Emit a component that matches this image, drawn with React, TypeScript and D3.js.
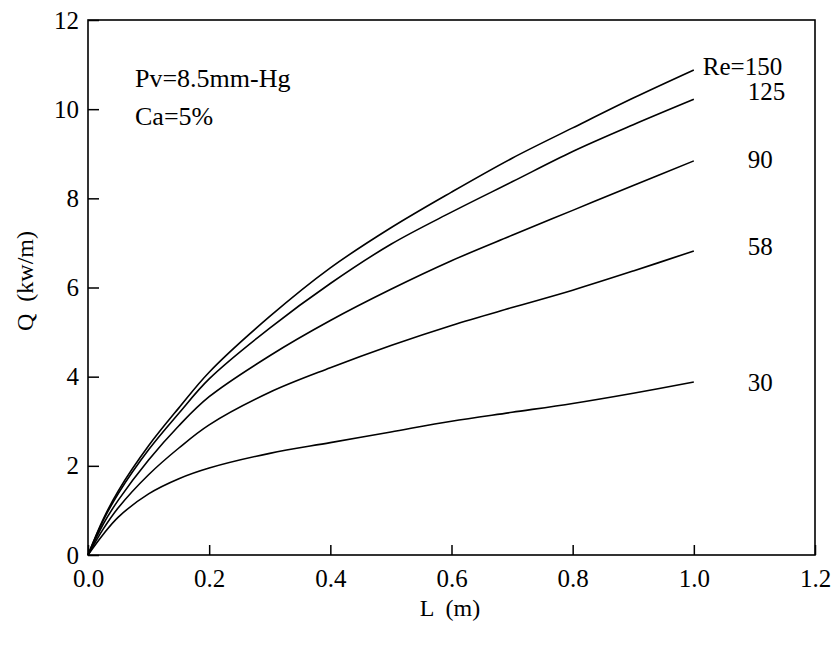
import React, { useEffect, useRef } from 'react';
import * as d3 from 'd3';

// L (m) sample positions shared by every curve
const lengths = [0, 0.025, 0.05, 0.1, 0.15, 0.2, 0.3, 0.4, 0.5, 0.6, 0.7, 0.8, 0.9, 1.0];

// Q (kw/m) for each Reynolds number
const re150 = [0, 0.8, 1.44, 2.45, 3.3, 4.1, 5.35, 6.44, 7.34, 8.14, 8.9, 9.58, 10.25, 10.88];
const re125 = [0, 0.77, 1.38, 2.36, 3.18, 3.95, 5.09, 6.09, 6.97, 7.69, 8.37, 9.05, 9.65, 10.22];
const re90 = [0, 0.69, 1.23, 2.13, 2.9, 3.55, 4.47, 5.26, 5.96, 6.6, 7.17, 7.73, 8.29, 8.84];
const re58 = [0, 0.58, 1.06, 1.8, 2.4, 2.92, 3.65, 4.2, 4.7, 5.15, 5.55, 5.94, 6.37, 6.82];
const re30 = [0, 0.46, 0.85, 1.37, 1.71, 1.95, 2.28, 2.52, 2.76, 3.0, 3.2, 3.4, 3.63, 3.88];

const curveLabels = ['Re=150', '125', '90', '58', '30'];
const xTicks = [0, 0.2, 0.4, 0.6, 0.8, 1.0, 1.2];
const yTicks = [0, 2, 4, 6, 8, 10, 12];
const notes = ['Pv=8.5mm-Hg', 'Ca=5%'];

const series = [re150, re125, re90, re58, re30];

export const Chart = ({ width = 833, height = 646 }) => {
  const ref = useRef(null);

  useEffect(() => {
    const margin = { top: 20, left: 88, bottom: 91, right: 18 };
    const iwidth = width - margin.left - margin.right;
    const iheight = height - margin.top - margin.bottom;
    const font = '"Liberation Serif", "Times New Roman", serif';

    const svg = d3.select(ref.current);
    svg.selectAll('*').remove();
    svg.attr('width', width).attr('height', height);

    const g = svg.append('g').attr('transform', `translate(${margin.left},${margin.top})`);

    const x = d3.scaleLinear().domain([0, 1.2]).range([0, iwidth]);
    const y = d3.scaleLinear().domain([0, 12]).range([iheight, 0]);

    // axes with inward ticks
    const xAxis = g.append('g')
      .attr('transform', `translate(0,${iheight})`)
      .call(d3.axisBottom(x).tickValues(xTicks).tickFormat(d3.format('.1f')).tickSize(-10).tickPadding(14));
    const yAxis = g.append('g')
      .call(d3.axisLeft(y).tickValues(yTicks).tickFormat(d3.format('d')).tickSize(-11).tickPadding(9));

    [xAxis, yAxis].forEach(a => {
      a.select('.domain').remove();
      a.attr('font-family', font).attr('font-size', 25);
      a.selectAll('line').attr('stroke', '#000').attr('stroke-width', 1.5);
      a.selectAll('text').attr('fill', '#000');
    });

    g.append('rect')
      .attr('width', iwidth)
      .attr('height', iheight)
      .attr('fill', 'none')
      .attr('stroke', '#000')
      .attr('stroke-width', 1.6);

    const line = d3.line()
      .x((d, i) => x(lengths[i]))
      .y(d => y(d))
      .curve(d3.curveCatmullRom.alpha(0.5));

    g.selectAll('path.curve')
      .data(series)
      .enter().append('path')
      .attr('class', 'curve')
      .attr('d', d => line(d))
      .attr('fill', 'none')
      .attr('stroke', '#000')
      .attr('stroke-width', 1.6);

    // labels at the end of each curve
    g.selectAll('text.re')
      .data(series)
      .enter().append('text')
      .attr('class', 're')
      .attr('x', (d, i) => i === 0 ? x(1.0) + 9 : x(1.0) + 54)
      .attr('y', (d, i) => y(d[d.length - 1]) + [5, 1, 7, 4, 9][i])
      .attr('font-family', font)
      .attr('font-size', 25)
      .text((d, i) => curveLabels[i]);

    g.selectAll('text.note')
      .data(notes)
      .enter().append('text')
      .attr('class', 'note')
      .attr('x', 47)
      .attr('y', (d, i) => 67 + i * 38)
      .attr('font-family', font)
      .attr('font-size', 26)
      .text(d => d);

    svg.append('text')
      .attr('x', 450)
      .attr('y', 616)
      .attr('text-anchor', 'middle')
      .attr('font-family', font)
      .attr('font-size', 24)
      .style('white-space', 'pre')
      .text('L  (m)');

    svg.append('text')
      .attr('transform', 'translate(33,281) rotate(-90)')
      .attr('text-anchor', 'middle')
      .attr('font-family', font)
      .attr('font-size', 24)
      .style('white-space', 'pre')
      .text('Q  (kw/m)');
  });

  return <svg ref={ref} style={{ position: 'absolute', left: 0, top: 0 }}></svg>;
};

export default function App() {
  return (
    <div style={{ background: '#fff' }}>
      <Chart />
    </div>
  );
}
